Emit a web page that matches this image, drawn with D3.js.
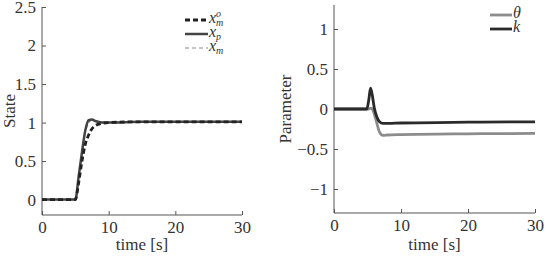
<!DOCTYPE html>
<html>
  <head>
    <meta charset="utf-8">
    <title>State and parameter</title>
    <script src="https://d3js.org/d3.v7.min.js"></script>
    <style>
      body { margin: 0; background: #fff; }
      .axis path, .axis line { stroke: #555; }
    </style>
  </head>
  <body>
    <svg id="canvas" width="546" height="256"></svg>
    <script>
      // left panel: state
      var timeState = [0, 5, 5.5, 6, 6.5, 7, 7.5, 8, 9, 10, 15, 20, 30];
      var xmo = [0, 0, 0.22, 0.5, 0.72, 0.84, 0.92, 0.96, 0.99, 1.0, 1.01, 1.01, 1.01];
      var xp = [0, 0, 0.3, 0.62, 0.9, 1.03, 1.04, 1.02, 1.0, 1.0, 1.01, 1.01, 1.01];
      var xm = [0, 0, 0.28, 0.6, 0.87, 1.0, 1.03, 1.02, 1.0, 1.0, 1.01, 1.01, 1.01];
      var stateTicks = [0, 0.5, 1, 1.5, 2, 2.5];

      // right panel: parameters
      var timeParam = [0, 4.9, 5.2, 5.45, 5.7, 6.0, 6.4, 6.8, 7.3, 8, 10, 20, 30];
      var kVals = [0, 0, 0.12, 0.26, 0.18, 0.02, -0.1, -0.16, -0.18, -0.18, -0.175, -0.165, -0.16];
      var thetaVals = [0, 0, 0, 0.01, 0.0, -0.06, -0.18, -0.29, -0.33, -0.325, -0.32, -0.31, -0.305];
      var paramTicks = [-1, -0.5, 0, 0.5, 1];
      var timeTicks = [0, 10, 20, 30];

      var svg = d3.select("#canvas");
      var serif = "Liberation Serif";

      function panel(opts) {
        var x = d3.scaleLinear().domain([0, 30]).range([opts.x0, opts.x1]);
        var y = d3.scaleLinear().domain(opts.ydomain).range([opts.y1, opts.y0]);
        var g = svg.append("g");

        g.append("g")
          .attr("class", "axis")
          .attr("transform", "translate(0," + opts.y1 + ")")
          .call(d3.axisBottom(x).tickValues(timeTicks).tickSize(-4).tickPadding(6).tickFormat(d3.format("d")))
          .call(function(a) { a.select(".domain").attr("d", "M" + opts.x0 + ",0H" + opts.x1); });
        g.append("g")
          .attr("class", "axis")
          .attr("transform", "translate(" + opts.x0 + ",0)")
          .call(d3.axisLeft(y).tickValues(opts.ticks).tickSize(-4).tickPadding(6)
            .tickFormat(function(d) { return d < 0 ? "\u2212" + Math.abs(d) : d; }))
          .call(function(a) { a.select(".domain").attr("d", "M0," + opts.y0 + "V" + opts.y1); });
        g.selectAll(".axis").attr("font-family", null).attr("font-size", null);
        g.selectAll(".axis text")
          .attr("font-family", serif)
          .attr("font-size", 17)
          .attr("fill", "#333");

        g.append("text")
          .attr("x", (opts.x0 + opts.x1) / 2)
          .attr("y", 250)
          .attr("text-anchor", "middle")
          .attr("font-family", serif)
          .attr("font-size", 17)
          .attr("fill", "#333")
          .text("time [s]");
        g.append("text")
          .attr("transform", "translate(" + opts.labelX + "," + ((opts.y0 + opts.y1) / 2) + ") rotate(-90)")
          .attr("text-anchor", "middle")
          .attr("font-family", serif)
          .attr("font-size", 17)
          .attr("fill", "#333")
          .text(opts.ylabel);

        opts.series.forEach(function(s) {
          var line = d3.line()
            .x(function(d) { return x(d[0]); })
            .y(function(d) { return y(d[1]); })
            .curve(d3.curveMonotoneX);
          g.append("path")
            .datum(d3.zip(s.t, s.v))
            .attr("fill", "none")
            .attr("stroke", s.color)
            .attr("stroke-width", s.width)
            .attr("stroke-dasharray", s.dash || null)
            .attr("d", line);
        });

        // legend
        opts.series.forEach(function(s) {
          var ly = opts.legendY + s.row * opts.legendStep;
          g.append("line")
            .attr("x1", opts.legendX).attr("x2", opts.legendX + opts.legendLen)
            .attr("y1", ly).attr("y2", ly)
            .attr("stroke", s.color)
            .attr("stroke-width", s.width)
            .attr("stroke-dasharray", s.dash || null);
          var t = g.append("text")
            .attr("x", opts.legendX + opts.legendLen + 1)
            .attr("y", ly + 3)
            .attr("font-family", serif)
            .attr("font-size", 16)
            .attr("font-style", "italic")
            .attr("fill", "#333");
          t.append("tspan").text(s.sym);
          if (s.sup) {
            t.append("tspan").attr("font-size", 10).attr("dy", -6).text(s.sup);
            t.append("tspan").attr("font-size", 10).attr("dx", -5).attr("dy", 9).text(s.sub);
          } else if (s.sub) {
            t.append("tspan").attr("font-size", 10).attr("dy", 3).text(s.sub);
          }
        });
      }

      panel({
        x0: 42, x1: 242, y0: 7, y1: 215,
        ydomain: [-0.2, 2.5], ticks: stateTicks,
        ylabel: "State", labelX: 15,
        legendX: 185, legendY: 20, legendStep: 14, legendLen: 23,
        series: [
          { t: timeState, v: xm, color: "#8a8a8a", width: 1.2, dash: "4,3", sym: "x", sub: "m", row: 2 },
          { t: timeState, v: xp, color: "#444", width: 2.5, sym: "x", sub: "p", row: 1 },
          { t: timeState, v: xmo, color: "#222", width: 2.8, dash: "5,3", sym: "x", sup: "o", sub: "m", row: 0 }
        ]
      });

      panel({
        x0: 334, x1: 535, y0: 5, y1: 213,
        ydomain: [-1.3, 1.3], ticks: paramTicks,
        ylabel: "Parameter", labelX: 291,
        legendX: 490, legendY: 15, legendStep: 14, legendLen: 22,
        series: [
          { t: timeParam, v: thetaVals, color: "#8c8c8c", width: 2.8, sym: "\u03b8", row: 0 },
          { t: timeParam, v: kVals, color: "#2a2a2a", width: 2.8, sym: "k", row: 1 }
        ]
      });
    </script>
  </body>
</html>
